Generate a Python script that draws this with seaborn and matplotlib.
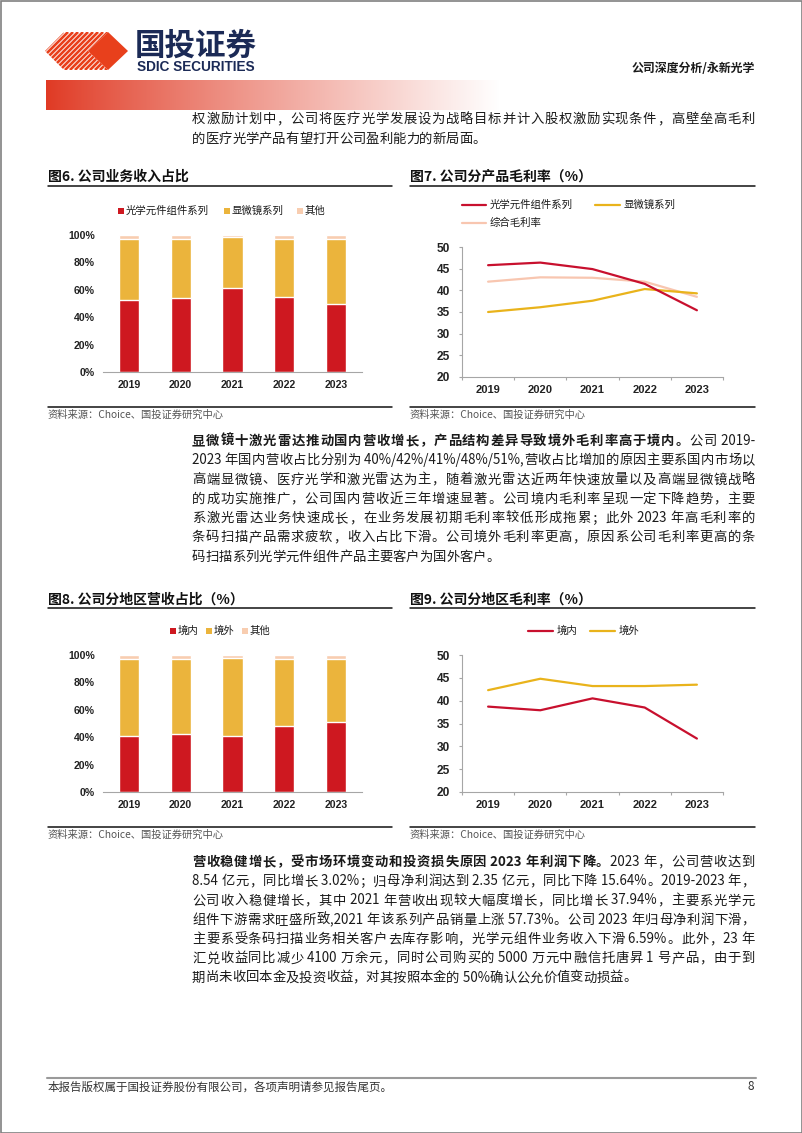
import re
import numpy as np
import seaborn as sns
import matplotlib
matplotlib.use('Agg')
import matplotlib.pyplot as plt
import matplotlib.colors as mcolors
from matplotlib.patches import Polygon, Rectangle

years = ['2019', '2020', '2021', '2022', '2023']

# 图6 公司业务收入占比 (%)
optics_share = [52.4, 54.1, 61.0, 54.4, 49.3]
microscope_share = [44.9, 43.2, 37.3, 42.9, 48.0]
other_share = [2.7, 2.7, 1.7, 2.7, 2.7]

# 图7 公司分产品毛利率 (%)
optics_margin = [45.8, 46.4, 44.9, 41.5, 35.4]
microscope_margin = [35.0, 36.1, 37.6, 40.3, 39.3]
total_margin = [42.0, 43.0, 42.9, 42.0, 38.5]

# 图8 公司分地区营收占比 (%)
domestic_share = [40.7, 42.0, 41.0, 48.0, 51.2]
overseas_share = [56.4, 55.1, 57.0, 49.1, 45.9]
region_other_share = [2.9, 2.9, 2.0, 2.9, 2.9]

# 图9 公司分地区毛利率 (%)
domestic_margin = [38.7, 37.9, 40.5, 38.5, 31.7]
overseas_margin = [42.3, 44.8, 43.2, 43.2, 43.5]

RED = '#CE1820'
GOLD = '#EBB43C'
PINK = '#F8CDB0'
LINE_RED = '#C8102E'
LINE_GOLD = '#E9B31B'
LINE_PINK = '#F8C6B0'
TEXT = '#1a1a1a'

sns.set_style('white')
plt.rcParams['font.family'] = ['Noto Sans CJK SC', 'DejaVu Sans']

W, H = 802, 1133
fig = plt.figure(figsize=(W / 100, H / 100), dpi=100)
page = fig.add_axes([0, 0, 1, 1])
page.axis('off')


def place(x0, y0, x1, y1):
    return fig.add_axes([x0 / W, 1 - y1 / H, (x1 - x0) / W, (y1 - y0) / H])


# ---------------- 页眉 ----------------
chevron = Polygon([(45, 51), (64, 32), (108, 32), (88, 51), (108, 70), (64, 70)],
                  closed=True, transform=page.transData, fc='none', ec='none')
page.add_patch(chevron)
for c in range(20, 110, 5):
    ln, = page.plot([c, c + 38], [70, 32], color='#E8401C', lw=1.9, solid_capstyle='butt')
    ln.set_clip_path(chevron)
page.add_patch(Polygon([(108, 32), (128, 51), (108, 70), (88, 51)], closed=True,
                       fc='#E8401C', ec='none'))
page.text(135, 46, '国投证券', fontsize=22, fontweight='bold', color='#1B2A56',
          va='center', ha='left')
page.text(137, 67, 'SDIC SECURITIES', fontsize=9.8, fontweight='bold', color='#1B2A56',
          va='center', ha='left', family=['Liberation Sans'])
page.text(755, 68, '公司深度分析/永新光学', fontsize=8.6, fontweight='bold', color=TEXT,
          va='center', ha='right')

ramp = np.linspace(0, 1, 300) ** 0.9
start = np.array(mcolors.to_rgb('#E03A24'))
grad = start[None, :] * (1 - ramp[:, None]) + ramp[:, None]
page.imshow(grad[None, :, :], extent=(46, 500, 110, 80), aspect='auto', zorder=0)

page.add_patch(Rectangle((0.5, 0.5), W - 1, H - 1, fill=False, ec='#808080', lw=1.2))

# ---------------- 正文 ----------------
renderer = fig.canvas.get_renderer()


def text_line(y, segments, justify=True, x0=192, x1=755, size=9.6):
    arts, widths = [], []
    for s, weight in segments:
        for tok in re.findall(r'[ -~]+|.', s):
            t = page.text(x0, y, tok, fontsize=size, fontweight=weight, color=TEXT,
                          va='center', ha='left')
            arts.append(t)
            widths.append(t.get_window_extent(renderer).width)
    gap = (x1 - x0 - sum(widths)) / (len(arts) - 1) if justify and len(arts) > 1 else 0
    x = x0
    for t, w in zip(arts, widths):
        t.set_x(x)
        x += w + gap


def paragraph(y0, lines, step=19.25):
    for i, segs in enumerate(lines):
        text_line(y0 + i * step, segs, justify=(i < len(lines) - 1))


N, B = 'normal', 'bold'
paragraph(119, [
    [('权激励计划中，公司将医疗光学发展设为战略目标并计入股权激励实现条件，高壁垒高毛利', N)],
    [('的医疗光学产品有望打开公司盈利能力的新局面。', N)],
], step=19.5)

paragraph(441, [
    [('显微镜十激光雷达推动国内营收增长，产品结构差异导致境外毛利率高于境内。', B), ('公司 2019-', N)],
    [('2023 年国内营收占比分别为 40%/42%/41%/48%/51%,营收占比增加的原因主要系国内市场以', N)],
    [('高端显微镜、医疗光学和激光雷达为主，随着激光雷达近两年快速放量以及高端显微镜战略', N)],
    [('的成功实施推广，公司国内营收近三年增速显著。公司境内毛利率呈现一定下降趋势，主要', N)],
    [('系激光雷达业务快速成长，在业务发展初期毛利率较低形成拖累；此外 2023 年高毛利率的', N)],
    [('条码扫描产品需求疲软，收入占比下滑。公司境外毛利率更高，原因系公司毛利率更高的条', N)],
    [('码扫描系列光学元件组件产品主要客户为国外客户。', N)],
])

paragraph(862, [
    [('营收稳健增长，受市场环境变动和投资损失原因 2023 年利润下降。', B), ('2023 年，公司营收达到', N)],
    [('8.54 亿元，同比增长 3.02%；归母净利润达到 2.35 亿元，同比下降 15.64%。2019-2023 年，', N)],
    [('公司收入稳健增长，其中 2021 年营收出现较大幅度增长，同比增长 37.94%，主要系光学元', N)],
    [('组件下游需求旺盛所致,2021 年该系列产品销量上涨 57.73%。公司 2023 年归母净利润下滑，', N)],
    [('主要系受条码扫描业务相关客户去库存影响，光学元组件业务收入下滑 6.59%。此外，23 年', N)],
    [('汇兑收益同比减少 4100 万余元，同时公司购买的 5000 万元中融信托唐昇 1 号产品，由于到', N)],
    [('期尚未收回本金及投资收益，对其按照本金的 50%确认公允价值变动损益。', N)],
])

# ---------------- 图框 ----------------
def frame(x0, x1, y_title, y_rule, y_src_rule, title):
    page.text(x0, y_title, title, fontsize=10, fontweight='bold', color='#111111',
              va='center', ha='left')
    page.plot([x0, x1], [y_rule, y_rule], color='#111111', lw=1.1)
    page.plot([x0, x1], [y_src_rule, y_src_rule], color='#111111', lw=1.1)
    page.text(x0, y_src_rule + 8, '资料来源：Choice、国投证券研究中心', fontsize=7.4,
              color='#555555', va='center', ha='left')


frame(48, 392, 177, 186, 407, '图6. 公司业务收入占比')
frame(410, 755, 177, 186, 407, '图7. 公司分产品毛利率（%）')
frame(48, 392, 600, 608, 827, '图8. 公司分地区营收占比（%）')
frame(410, 755, 600, 608, 827, '图9. 公司分地区毛利率（%）')


def square_legend(y, items):
    for xs, xt, label, color in items:
        page.add_patch(Rectangle((xs - 3, y - 3), 6, 6, fc=color, ec='none'))
        page.text(xt, y, label, fontsize=7.5, color=TEXT, va='center', ha='left')


def line_legend(items):
    for xl, xr, y, label, color in items:
        page.plot([xl, xr], [y, y], color=color, lw=1.6)
        page.text(xr + 4, y, label, fontsize=7.5, color=TEXT, va='center', ha='left')


def style_ticks(ax, xsize=7.6, ysize=7.6):
    for lbl in ax.get_xticklabels():
        lbl.set_fontsize(xsize)
    for lbl in ax.get_yticklabels():
        lbl.set_fontsize(ysize)
    for lbl in ax.get_xticklabels() + ax.get_yticklabels():
        lbl.set_fontfamily('Liberation Sans')
        lbl.set_fontweight('bold')
        lbl.set_color('#222222')


def stacked_bars(ax, parts, colors):
    cum = np.cumsum(np.array(parts), axis=0)
    for level in range(len(parts) - 1, -1, -1):
        sns.barplot(x=years, y=cum[level], color=colors[level], width=0.39,
                    saturation=1, ax=ax)
    ax.set_xlim(-0.5, 4.5)
    ax.set_ylim(0, 100)
    ax.set_yticks(range(0, 101, 20))
    ax.set_yticklabels([f'{v}%' for v in range(0, 101, 20)])
    ax.set_xlabel('')
    ax.set_ylabel('')
    for side in ['left', 'top', 'right']:
        ax.spines[side].set_visible(False)
    ax.spines['bottom'].set_color('#A6A6A6')
    ax.spines['bottom'].set_linewidth(0.8)
    ax.tick_params(axis='y', length=0, pad=6)
    ax.tick_params(axis='x', length=0, pad=5.5)
    ax.patch.set_alpha(0)
    style_ticks(ax)


def margin_lines(ax, series, colors):
    x = np.arange(len(years))
    for vals, c in zip(series, colors):
        sns.lineplot(x=x, y=vals, color=c, lw=1.6, ax=ax)
    ax.set_xlim(-0.5, 4.5)
    ax.set_ylim(20, 50)
    ax.set_yticks(range(20, 51, 5))
    ax.set_xticks(x)
    ax.set_xticklabels(years)
    ax.set_xticks(np.arange(-0.5, 5, 1), minor=True)
    ax.set_xlabel('')
    ax.set_ylabel('')
    for side in ['top', 'right']:
        ax.spines[side].set_visible(False)
    for side in ['left', 'bottom']:
        ax.spines[side].set_color('#A6A6A6')
        ax.spines[side].set_linewidth(0.8)
    ax.tick_params(axis='y', which='major', length=2.5, width=0.8, color='#A6A6A6',
                   direction='out', left=True, pad=6)
    ax.tick_params(axis='x', which='major', length=0, pad=6)
    ax.tick_params(axis='x', which='minor', length=2.5, width=0.8, color='#A6A6A6',
                   direction='out', bottom=True)
    ax.patch.set_alpha(0)
    style_ticks(ax, 8, 8.6)


# 图6
ax6 = place(103, 235, 362, 372)
stacked_bars(ax6, [optics_share, microscope_share, other_share], [RED, GOLD, PINK])
square_legend(211, [(121, 126, '光学元件组件系列', RED), (227, 232, '显微镜系列', GOLD),
                    (300, 305, '其他', PINK)])

# 图7
ax7 = place(462, 247, 723, 377)
margin_lines(ax7, [total_margin, microscope_margin, optics_margin],
             [LINE_PINK, LINE_GOLD, LINE_RED])
line_legend([(462, 486, 205, '光学元件组件系列', LINE_RED),
             (595, 620, 205, '显微镜系列', LINE_GOLD),
             (462, 486, 223, '综合毛利率', LINE_PINK)])

# 图8
ax8 = place(103, 655, 362, 792)
stacked_bars(ax8, [domestic_share, overseas_share, region_other_share], [RED, GOLD, PINK])
square_legend(631, [(173, 178, '境内', RED), (209, 214, '境外', GOLD), (245, 250, '其他', PINK)])

# 图9
ax9 = place(462, 655, 723, 792)
margin_lines(ax9, [overseas_margin, domestic_margin], [LINE_GOLD, LINE_RED])
line_legend([(528, 553, 631, '境内', LINE_RED), (590, 615, 631, '境外', LINE_GOLD)])

# ---------------- 页脚 ----------------
page.plot([47, 756], [1078, 1078], color='#9A9A9A', lw=1.5)
page.text(48, 1087, '本报告版权属于国投证券股份有限公司，各项声明请参见报告尾页。',
          fontsize=8.3, color='#333333', va='center', ha='left')
page.text(751, 1087, '8', fontsize=8.5, color='#333333', va='center', ha='center')

page.set_xlim(0, W)
page.set_ylim(H, 0)

fig.savefig('out.png', dpi=100)
